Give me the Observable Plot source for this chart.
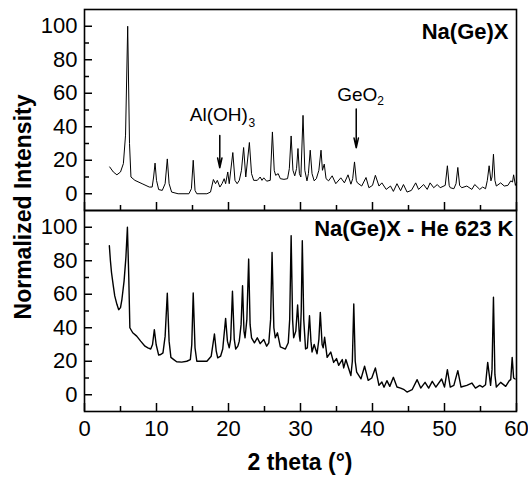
<!DOCTYPE html>
<html><head><meta charset="utf-8">
<script src="https://cdn.jsdelivr.net/npm/d3@7"></script>
<script src="https://cdn.jsdelivr.net/npm/@observablehq/plot@0.6"></script>
<style>body{margin:0;background:#fff;}</style>
</head><body><div id="chart"></div>
<script>
// [2θ (°), normalized intensity]
const topPattern = [[3.5,16],[4.0,13],[4.5,11.3],[5.0,13],[5.4,18],[5.7,35],[6.0,100],[6.25,30],[6.45,10],[7.0,8],[8.0,6],[9.0,4],[9.4,4],[9.6,10],[9.8,18.3],[10.0,8],[10.3,2.5],[10.8,2],[11.2,6],[11.5,20.8],[11.75,6],[12.1,1],[13,0],[14.5,0],[14.85,3],[15.1,20],[15.35,2],[15.6,0],[17,0],[17.5,1],[17.9,8.5],[18.2,6],[18.45,8],[18.8,4],[19.1,6],[19.4,9],[19.6,6],[19.9,13],[20.1,6],[20.6,24.6],[20.9,8],[21.2,6],[21.5,8],[21.8,14],[22.1,27.6],[22.4,10],[22.9,30.6],[23.2,12],[23.5,8],[24.0,8],[24.4,10],[24.65,8],[24.9,9.5],[25.3,7.5],[25.8,8],[26.1,36.9],[26.35,14],[26.55,11],[26.9,12],[27.2,9],[27.7,8.6],[28.2,9],[28.45,15],[28.7,34.5],[28.95,14],[29.2,10.7],[29.45,15],[29.65,27],[29.85,12],[30.05,10],[30.35,46.8],[30.6,14],[30.9,7.7],[31.1,12],[31.35,26],[31.6,12],[31.9,7.7],[32.2,9],[32.55,14],[32.85,26],[33.05,14],[33.3,17.7],[33.55,9],[33.9,7.7],[34.4,10.7],[34.9,6],[35.6,9.5],[36.1,6.5],[36.6,11.3],[37.0,5.7],[37.25,9],[37.5,19],[37.75,8],[37.9,6.5],[38.5,4.6],[39.1,9.7],[39.5,3.6],[40.0,5],[40.4,11],[40.9,4.6],[41.3,6.5],[41.9,2.6],[42.5,4.6],[42.9,1.4],[43.4,6],[43.9,1.8],[44.3,5.5],[44.8,1],[45.4,2],[46.0,6.5],[46.4,2.6],[47.1,5.5],[47.6,2.6],[48.0,6.5],[48.5,3.6],[49.0,5.5],[49.4,3.6],[50.1,5],[50.4,16.7],[50.65,5],[50.8,3.6],[51.3,3],[51.6,6],[51.85,15.7],[52.1,5],[52.4,3.6],[53.1,4.6],[53.8,2.6],[54.2,5.5],[54.9,2.6],[55.3,4],[55.7,3],[55.95,8],[56.2,16.7],[56.45,7.7],[56.6,10],[56.8,23.6],[57.0,8],[57.2,4.6],[57.8,6.5],[58.3,4.6],[58.8,5],[59.2,7.7],[59.45,7],[59.6,11.3],[59.85,5],[60,6.5]];
const bottomPattern = [[3.45,89],[3.6,80],[3.75,73],[4.0,65],[4.2,59],[4.5,54],[4.75,50.8],[5.0,52],[5.2,57],[5.5,68],[5.75,82],[5.96,100],[6.15,70],[6.3,40],[6.7,37],[7.25,35],[7.8,32],[8.4,29],[8.8,28],[9.2,27.3],[9.45,30],[9.7,38.9],[9.95,30],[10.3,23.7],[10.6,24],[10.9,25],[11.2,35],[11.5,60.6],[11.75,32],[12.0,22.3],[12.4,21],[12.8,19.7],[13.5,19.5],[14.2,20],[14.7,21],[14.9,30],[15.1,60.8],[15.35,28],[15.6,20],[16.3,20],[17.0,20],[17.6,23],[18.05,36.3],[18.3,26],[18.5,22],[18.9,23],[19.2,27.3],[19.6,45.6],[19.85,32],[20.1,28],[20.3,33],[20.55,61.8],[20.8,33],[21.0,27.3],[21.3,29],[21.5,32],[21.75,42],[21.95,65.1],[22.15,38],[22.3,34],[22.55,45],[22.8,81],[23.0,42],[23.2,34],[23.6,31],[24.0,34],[24.4,30.5],[24.9,33],[25.3,29],[25.6,31],[25.85,45],[26.05,85],[26.3,40],[26.5,34],[26.8,37],[27.2,28.6],[27.9,27.3],[28.3,31],[28.5,45],[28.7,95],[28.9,45],[29.05,34],[29.35,38],[29.6,53.6],[29.85,35],[29.95,32],[30.1,50],[30.25,92],[30.45,45],[30.7,27.3],[30.95,28],[31.25,47.2],[31.45,32],[31.6,25.5],[31.9,30],[32.3,24.5],[32.55,33],[32.75,49.2],[33.0,30],[33.15,28],[33.35,34.3],[33.7,22.3],[34.2,25.5],[34.6,19.3],[35.0,21.6],[35.3,17.6],[35.8,21],[36.0,16],[36.3,21],[37.0,11.5],[37.2,20],[37.4,54.2],[37.6,20],[37.8,13.5],[38.4,9.5],[38.9,17],[39.4,8.6],[39.9,10],[40.4,16],[40.9,5.6],[41.3,7.6],[41.6,4.5],[42.0,8.4],[42.4,5],[42.9,10.4],[43.4,4.6],[43.9,4],[44.4,3],[44.8,1.6],[45.5,3],[46.2,9],[46.7,4],[47.3,7.4],[47.8,4],[48.3,8],[48.8,4.6],[49.6,9.4],[50.0,4.6],[50.4,15],[50.8,4.6],[51.3,5.6],[51.85,14.4],[52.3,4.6],[53.1,5.6],[53.8,7],[54.3,4],[54.9,5.6],[55.3,4.6],[55.7,6],[56.0,19.3],[56.4,5.6],[56.6,15],[56.8,58.2],[57.0,12],[57.2,4.6],[57.8,7.4],[58.5,5],[59.0,8.4],[59.2,9],[59.4,22.3],[59.6,10],[59.8,9.4]];
const panels = ["Na(Ge)X", "Na(Ge)X - He 623 K"];
const xTicks = [0,10,20,30,40,50,60];
const xMinor = [5,15,25,35,45,55];
const yTicks = [0,20,40,60,80,100];
const yMinor = [10,30,50,70,90];
const labels = [{text:"Al(OH)", x:14.63, y:46.9}, {text:"GeO", x:35.1, y:58.8}];
const subs = [{text:"3", x:22.78, y:42.2}, {text:"2", x:40.65, y:55.5}];
const arrows = [{x:18.79, y1:34.8, y2:15.5}, {x:37.74, y1:50.6, y2:27.4}];
const xTitle = "2 theta (°)";
const yTitle = "Normalized Intensity";

const topData = topPattern.map(([x,y]) => ({panel: panels[0], x, y}));
const botData = bottomPattern.map(([x,y]) => ({panel: panels[1], x, y}));
const font = '"Liberation Sans", Arial, Helvetica, sans-serif';

const chart = Plot.plot({
  width: 528, height: 482,
  marginLeft: 84, marginRight: 12, marginTop: 8, marginBottom: 71,
  style: {fontFamily: font, fontSize: "22px", color: "#000", background: "#fff"},
  x: {domain: [0, 60]},
  y: {domain: [-10, 110]},
  fy: {domain: panels, padding: 0, axis: null},
  marks: [
    Plot.line(topData, {x: "x", y: "y", fy: "panel", stroke: "#000", strokeWidth: 1}),
    Plot.line(botData, {x: "x", y: "y", fy: "panel", stroke: "#000", strokeWidth: 1.4}),
    Plot.frame({stroke: "#000", strokeWidth: 1.6}),
    Plot.axisY({ticks: yTicks, tickSize: -8, fill: "none", strokeWidth: 1.5}),
    Plot.axisY({ticks: yMinor, tickSize: -5, fill: "none", strokeWidth: 1.5}),
    Plot.axisY({ticks: yTicks, tickSize: 0, tickPadding: 7, label: null, fontSize: 22}),
    Plot.axisX({ticks: xTicks, tickSize: -8, fill: "none", facetAnchor: null, strokeWidth: 1.5}),
    Plot.axisX({ticks: xMinor, tickSize: -5, fill: "none", facetAnchor: null, strokeWidth: 1.5}),
    Plot.axisX({ticks: xTicks, tickSize: 0, tickPadding: 9, label: null, fontSize: 22}),
    Plot.text([panels[0]], {fy: d => d, text: d => d, frameAnchor: "top-right", textAnchor: "end", lineAnchor: "middle", dx: -8, dy: 22, fontWeight: "bold", fontSize: 22}),
    Plot.text([panels[1]], {fy: d => d, text: d => d, frameAnchor: "top-right", textAnchor: "end", lineAnchor: "middle", dx: -3, dy: 18, fontWeight: "bold", fontSize: 22}),
    Plot.text(labels, {x: "x", y: "y", text: "text", fy: () => panels[0], textAnchor: "start", lineAnchor: "middle", fontSize: 19}),
    Plot.text(subs, {x: "x", y: "y", text: "text", fy: () => panels[0], textAnchor: "start", lineAnchor: "middle", fontSize: 12}),
    Plot.arrow(arrows, {x1: "x", x2: "x", y1: "y1", y2: "y2", fy: () => panels[0], stroke: "#000", strokeWidth: 1.5, headLength: 10, headAngle: 25})
  ]
});

const svg = d3.select(chart);
svg.append("text")
  .attr("transform", "translate(31,207) rotate(-90)")
  .attr("text-anchor", "middle").attr("font-weight", "bold").attr("font-size", 23)
  .attr("font-family", font).attr("fill", "#000").text(yTitle);
svg.append("text")
  .attr("x", 300).attr("y", 470)
  .attr("text-anchor", "middle").attr("font-weight", "bold").attr("font-size", 23)
  .attr("font-family", font).attr("fill", "#000").text(xTitle);

document.getElementById("chart").appendChild(chart);
</script>
</body></html>
